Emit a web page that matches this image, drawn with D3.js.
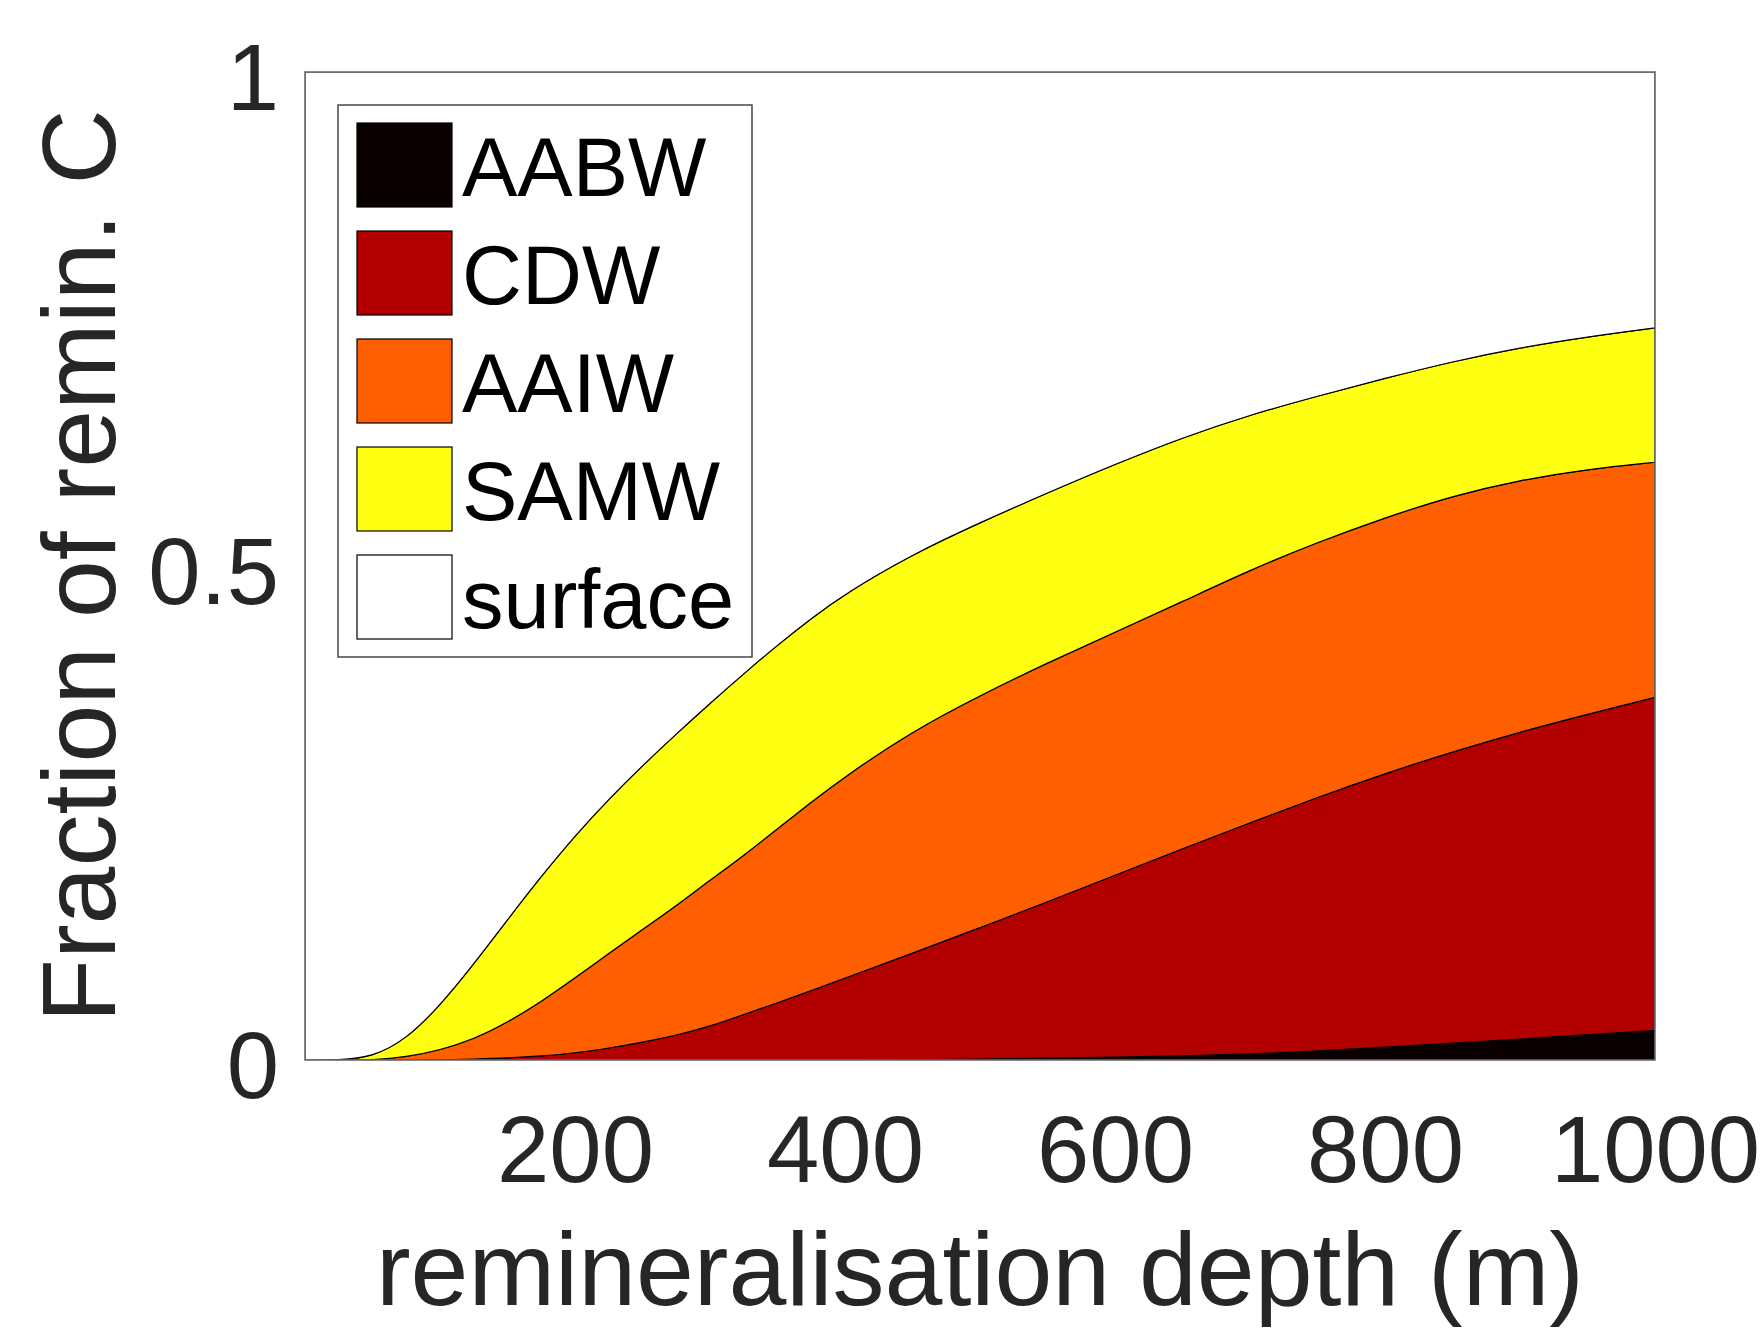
<!DOCTYPE html>
<html>
<head>
<meta charset="utf-8">
<script src="https://cdn.jsdelivr.net/npm/d3@7"></script>
<style>
  body { margin: 0; background: #fff; }
  svg { display: block; }
</style>
</head>
<body>
<svg id="chart" width="1763" height="1330"></svg>
<script>
// remineralisation depth (m)
const depth = [0, 25, 50, 75, 100, 125, 150, 175, 200, 225, 250, 275, 300, 325, 350, 375, 400,
    450, 500, 550, 600, 650, 700, 750, 800, 850, 900, 950, 1000];

// fraction of remineralised C ending up in each water mass
const AABW = [0, 0, 0, 0, 0, 0, 0, 0, 0, 0, 0, 0, 0, 0, 0, 0, 0,
    0, 0.001, 0.002, 0.003, 0.004, 0.006, 0.009, 0.013, 0.017, 0.021, 0.026, 0.030];
const CDW = [0, 0, 0, 0, 0, 0.001, 0.002, 0.004, 0.007, 0.012, 0.018, 0.025, 0.034, 0.046, 0.058, 0.070, 0.083,
    0.108, 0.133, 0.158, 0.184, 0.210, 0.234, 0.257, 0.277, 0.295, 0.311, 0.324, 0.337];
const AAIW = [0, 0, 0, 0.003, 0.010, 0.020, 0.036, 0.055, 0.076, 0.096, 0.114, 0.131, 0.148, 0.161, 0.176, 0.191, 0.204,
    0.225, 0.235, 0.242, 0.246, 0.250, 0.256, 0.258, 0.259, 0.259, 0.255, 0.248, 0.238];
const SAMW = [0, 0, 0.003, 0.018, 0.045, 0.076, 0.104, 0.127, 0.144, 0.156, 0.166, 0.174, 0.179, 0.184, 0.186, 0.186, 0.185,
    0.179, 0.175, 0.172, 0.170, 0.166, 0.157, 0.148, 0.141, 0.136, 0.134, 0.134, 0.136];
const surface = [1, 1, 0.997, 0.979, 0.945, 0.903, 0.858, 0.814, 0.773, 0.736, 0.702, 0.670, 0.639, 0.609, 0.580, 0.553, 0.528,
    0.488, 0.456, 0.426, 0.397, 0.370, 0.347, 0.328, 0.310, 0.293, 0.279, 0.268, 0.259];

const seriesNames = ["AABW", "CDW", "AAIW", "SAMW", "surface"];
const seriesColors = ["#0b0000", "#b20000", "#ff5f00", "#ffff12", "#ffffff"];
const xTicks = [200, 400, 600, 800, 1000];
const yTicks = [0, 0.5, 1];
const yTickLabels = ["0", "0.5", "1"];

const svg = d3.select("#chart"),
    margin = { top: 72, right: 108, bottom: 270, left: 305 },
    width = +svg.attr("width") - margin.left - margin.right,
    height = +svg.attr("height") - margin.top - margin.bottom,
    chart = svg.append("g").attr("transform", `translate(${margin.left},${margin.top})`);

const font = "'Liberation Sans', Arial, Helvetica, sans-serif";
const textColor = "#262626";

const table = depth.map((d, i) => ({
    depth: d, AABW: AABW[i], CDW: CDW[i], AAIW: AAIW[i], SAMW: SAMW[i], surface: surface[i]
}));

const stacked = d3.stack().keys(seriesNames)(table);

const x = d3.scaleLinear().domain([0, 1000]).range([0, width]);
const y = d3.scaleLinear().domain([0, 1]).range([height, 0]);
const color = d3.scaleOrdinal().domain(seriesNames).range(seriesColors);

const area = d3.area()
    .x(d => x(d.data.depth))
    .y0(d => y(d[0]))
    .y1(d => y(d[1]))
    .curve(d3.curveBasis);

chart.append("defs").append("clipPath")
    .attr("id", "plotClip")
    .append("rect")
    .attr("width", width)
    .attr("height", height);

chart.append("g")
    .attr("clip-path", "url(#plotClip)")
    .selectAll("path")
    .data(stacked)
    .enter()
    .append("path")
    .attr("fill", d => color(d.key))
    .attr("stroke", "#000")
    .attr("stroke-width", 1.2)
    .attr("stroke-linejoin", "round")
    .attr("d", area);

// axes (no tick marks, MATLAB style labels)
chart.append("g")
    .attr("transform", `translate(0,${height})`)
    .call(d3.axisBottom(x).tickValues(xTicks).tickSize(0).tickPadding(0).tickFormat(d3.format("d")))
    .call(g => g.select(".domain").remove())
    .call(g => g.selectAll("text")
        .attr("dy", null)
        .attr("y", 122)
        .style("fill", textColor)
        .style("font-family", font)
        .style("font-size", "94px"));

chart.append("g")
    .call(d3.axisLeft(y).tickValues(yTicks).tickSize(0).tickPadding(0).tickFormat((d, i) => yTickLabels[i]))
    .call(g => g.select(".domain").remove())
    .call(g => g.selectAll("text")
        .attr("dy", null)
        .attr("x", -26)
        .attr("y", 37)
        .style("fill", textColor)
        .style("font-family", font)
        .style("font-size", "94px"));

// axes box
chart.append("rect")
    .attr("width", width)
    .attr("height", height)
    .attr("fill", "none")
    .attr("stroke", "#6b6b6b")
    .attr("stroke-width", 1.6);

chart.append("text")
    .attr("text-anchor", "middle")
    .attr("x", width / 2)
    .attr("y", 1305 - margin.top)
    .style("font-size", "104px")
    .style("font-family", font)
    .style("fill", textColor)
    .text("remineralisation depth (m)");

chart.append("text")
    .attr("text-anchor", "middle")
    .attr("transform", "rotate(-90)")
    .attr("x", -height / 2)
    .attr("y", 115 - margin.left)
    .style("font-size", "104px")
    .style("font-family", font)
    .style("fill", textColor)
    .text("Fraction of remin. C");

// legend
const legend = chart.append("g").attr("transform", "translate(33,33)");

legend.append("rect")
    .attr("width", 414)
    .attr("height", 552)
    .attr("fill", "#fff")
    .attr("stroke", "#3a3a3a")
    .attr("stroke-width", 1.4);

const item = legend.selectAll("g.item")
    .data(seriesNames)
    .enter()
    .append("g")
    .attr("class", "item")
    .attr("transform", (d, i) => `translate(19,${18 + i * 108})`);

item.append("rect")
    .attr("width", 95)
    .attr("height", 84)
    .attr("fill", d => color(d))
    .attr("stroke", "#000")
    .attr("stroke-width", 1.2);

item.append("text")
    .attr("x", 105)
    .attr("y", 42 + 31)
    .style("font-size", "83px")
    .style("font-family", font)
    .style("fill", "#000")
    .text(d => d);
</script>
</body>
</html>
